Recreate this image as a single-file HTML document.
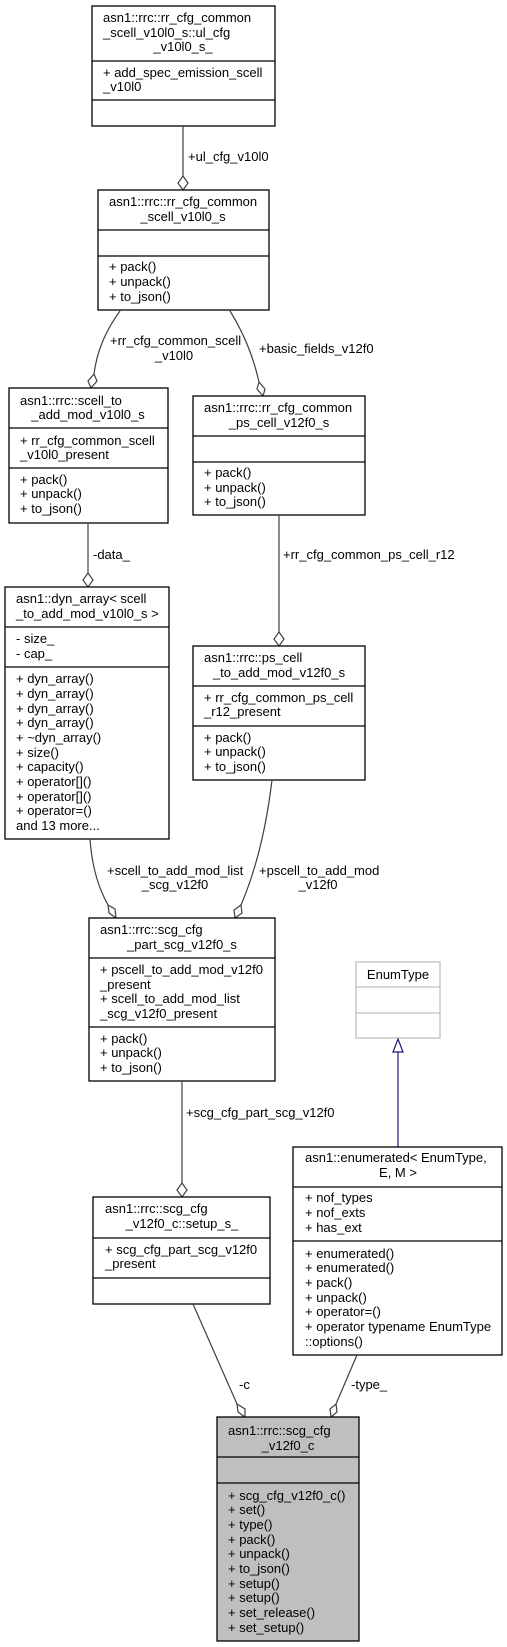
<!DOCTYPE html>
<html><head><meta charset="utf-8"><style>
html,body{margin:0;padding:0;background:#fff;}
svg{display:block;}
text{font-family:"Liberation Sans",Arial,sans-serif;font-size:13px;fill:#000;}
.b{fill:#fff;stroke:#000;stroke-width:1.3;}
.l{stroke:#000;stroke-width:1.3;}
.e{fill:none;stroke:#404040;stroke-width:1.2;}
.d{fill:#fff;stroke:#404040;stroke-width:1.2;}
.m{text-anchor:middle;}
</style></head><body>
<svg width="507" height="1647" viewBox="0 0 507 1647" xmlns="http://www.w3.org/2000/svg">

<rect class="b" x="92" y="6" width="183" height="120"/>
<line class="l" x1="92" y1="61" x2="275" y2="61"/><line class="l" x1="92" y1="100" x2="275" y2="100"/>
<text x="103" y="22">asn1::rrc::rr_cfg_common</text>
<text x="103" y="37">_scell_v10l0_s::ul_cfg</text>
<text x="183" y="51" class="m">_v10l0_s_</text>
<text x="103" y="77">+ add_spec_emission_scell</text>
<text x="103" y="91">_v10l0</text>

<line class="e" x1="183" y1="126" x2="183" y2="176"/>
<polygon class="d" points="183,176 188,183 183,190 178,183"/>
<text x="188" y="161">+ul_cfg_v10l0</text>

<rect class="b" x="98" y="190" width="171" height="120"/>
<line class="l" x1="98" y1="230" x2="269" y2="230"/><line class="l" x1="98" y1="256" x2="269" y2="256"/>
<text x="109" y="206">asn1::rrc::rr_cfg_common</text>
<text x="183" y="221" class="m">_scell_v10l0_s</text>
<text x="109" y="271">+ pack()</text>
<text x="109" y="286">+ unpack()</text>
<text x="109" y="301">+ to_json()</text>

<path class="e" d="M120,311 C106,330 97,350 94,374"/>
<polygon class="d" points="94,374 97,381 91,388 88,381"/>
<text x="110" y="345">+rr_cfg_common_scell</text>
<text x="174" y="360" class="m">_v10l0</text>

<path class="e" d="M230,311 C243,332 253,355 259,382"/>
<polygon class="d" points="259,382 265,389 263,396 257,389"/>
<text x="259" y="353">+basic_fields_v12f0</text>

<rect class="b" x="9" y="388" width="159" height="135"/>
<line class="l" x1="9" y1="428" x2="168" y2="428"/><line class="l" x1="9" y1="468" x2="168" y2="468"/>
<text x="20" y="405">asn1::rrc::scell_to</text>
<text x="88" y="419" class="m">_add_mod_v10l0_s</text>
<text x="20" y="445">+ rr_cfg_common_scell</text>
<text x="20" y="459">_v10l0_present</text>
<text x="20" y="484">+ pack()</text>
<text x="20" y="498">+ unpack()</text>
<text x="20" y="513">+ to_json()</text>

<rect class="b" x="193" y="396" width="172" height="119"/>
<line class="l" x1="193" y1="436" x2="365" y2="436"/><line class="l" x1="193" y1="462" x2="365" y2="462"/>
<text x="204" y="412">asn1::rrc::rr_cfg_common</text>
<text x="279" y="427" class="m">_ps_cell_v12f0_s</text>
<text x="204" y="477">+ pack()</text>
<text x="204" y="492">+ unpack()</text>
<text x="204" y="506">+ to_json()</text>

<line class="e" x1="88" y1="523" x2="88" y2="573"/>
<polygon class="d" points="88,573 93,580 88,587 83,580"/>
<text x="93" y="559">-data_</text>

<line class="e" x1="279" y1="515" x2="279" y2="632"/>
<polygon class="d" points="279,632 284,639 279,646 274,639"/>
<text x="283" y="559">+rr_cfg_common_ps_cell_r12</text>

<rect class="b" x="5" y="587" width="164" height="252"/>
<line class="l" x1="5" y1="627" x2="169" y2="627"/><line class="l" x1="5" y1="667" x2="169" y2="667"/>
<text x="16" y="603">asn1::dyn_array&lt; scell</text>
<text x="16" y="618">_to_add_mod_v10l0_s &gt;</text>
<text x="16" y="643">- size_</text>
<text x="16" y="658">- cap_</text>
<text x="16" y="683">+ dyn_array()</text>
<text x="16" y="698">+ dyn_array()</text>
<text x="16" y="713">+ dyn_array()</text>
<text x="16" y="727">+ dyn_array()</text>
<text x="16" y="742">+ ~dyn_array()</text>
<text x="16" y="757">+ size()</text>
<text x="16" y="771">+ capacity()</text>
<text x="16" y="786">+ operator[]()</text>
<text x="16" y="801">+ operator[]()</text>
<text x="16" y="815">+ operator=()</text>
<text x="16" y="830">and 13 more...</text>

<rect class="b" x="193" y="646" width="172" height="134"/>
<line class="l" x1="193" y1="686" x2="365" y2="686"/><line class="l" x1="193" y1="726" x2="365" y2="726"/>
<text x="204" y="662">asn1::rrc::ps_cell</text>
<text x="279" y="677" class="m">_to_add_mod_v12f0_s</text>
<text x="204" y="702">+ rr_cfg_common_ps_cell</text>
<text x="204" y="716">_r12_present</text>
<text x="204" y="742">+ pack()</text>
<text x="204" y="756">+ unpack()</text>
<text x="204" y="771">+ to_json()</text>

<path class="e" d="M90,839 C92,868 99,889 108,905"/>
<polygon class="d" points="108,905 115,909 116,918 109,913"/>
<text x="107" y="875">+scell_to_add_mod_list</text>
<text x="175" y="889" class="m">_scg_v12f0</text>

<path class="e" d="M272,780 C266,830 256,870 241,905"/>
<polygon class="d" points="241,905 242,913 235,918 234,910"/>
<text x="259" y="875">+pscell_to_add_mod</text>
<text x="318" y="889" class="m">_v12f0</text>

<rect class="b" x="89" y="918" width="186" height="163"/>
<line class="l" x1="89" y1="958" x2="275" y2="958"/><line class="l" x1="89" y1="1027" x2="275" y2="1027"/>
<text x="100" y="934">asn1::rrc::scg_cfg</text>
<text x="182" y="949" class="m">_part_scg_v12f0_s</text>
<text x="100" y="974">+ pscell_to_add_mod_v12f0</text>
<text x="100" y="989">_present</text>
<text x="100" y="1003">+ scell_to_add_mod_list</text>
<text x="100" y="1018">_scg_v12f0_present</text>
<text x="100" y="1043">+ pack()</text>
<text x="100" y="1057">+ unpack()</text>
<text x="100" y="1072">+ to_json()</text>

<rect x="356" y="962" width="84" height="76" fill="#fff" stroke="#bfbfbf" stroke-width="1.3"/>
<line x1="356" y1="987" x2="440" y2="987" stroke="#bfbfbf" stroke-width="1.3"/>
<line x1="356" y1="1013" x2="440" y2="1013" stroke="#bfbfbf" stroke-width="1.3"/>
<text x="398" y="979" class="m">EnumType</text>

<line x1="398" y1="1147" x2="398" y2="1052" stroke="#191970" stroke-width="1.2"/>
<polygon points="398,1039 403,1052 393,1052" fill="#fff" stroke="#191970" stroke-width="1.2"/>

<line class="e" x1="182" y1="1081" x2="182" y2="1183"/>
<polygon class="d" points="182,1183 187,1190 182,1197 177,1190"/>
<text x="186" y="1117">+scg_cfg_part_scg_v12f0</text>

<rect class="b" x="93" y="1197" width="177" height="107"/>
<line class="l" x1="93" y1="1238" x2="270" y2="1238"/><line class="l" x1="93" y1="1278" x2="270" y2="1278"/>
<text x="105" y="1213">asn1::rrc::scg_cfg</text>
<text x="182" y="1228" class="m">_v12f0_c::setup_s_</text>
<text x="105" y="1254">+ scg_cfg_part_scg_v12f0</text>
<text x="105" y="1268">_present</text>

<rect class="b" x="293" y="1147" width="209" height="208"/>
<line class="l" x1="293" y1="1187" x2="502" y2="1187"/><line class="l" x1="293" y1="1241" x2="502" y2="1241"/>
<text x="305" y="1162">asn1::enumerated&lt; EnumType,</text>
<text x="398" y="1177" class="m">E, M &gt;</text>
<text x="305" y="1202">+ nof_types</text>
<text x="305" y="1217">+ nof_exts</text>
<text x="305" y="1232">+ has_ext</text>
<text x="305" y="1258">+ enumerated()</text>
<text x="305" y="1272">+ enumerated()</text>
<text x="305" y="1287">+ pack()</text>
<text x="305" y="1302">+ unpack()</text>
<text x="305" y="1316">+ operator=()</text>
<text x="305" y="1331">+ operator typename EnumType</text>
<text x="305" y="1346">::options()</text>

<line class="e" x1="193" y1="1304" x2="237" y2="1404"/>
<polygon class="d" points="237,1404 245,1409 245,1417 238,1412"/>
<text x="239" y="1389">-c</text>

<line class="e" x1="357" y1="1355" x2="336" y2="1404"/>
<polygon class="d" points="336,1404 337,1412 331,1417 330,1409"/>
<text x="351" y="1389">-type_</text>

<rect x="217" y="1417" width="142" height="224" fill="#bfbfbf" stroke="#000" stroke-width="1.3"/>
<line class="l" x1="217" y1="1457" x2="359" y2="1457"/><line class="l" x1="217" y1="1483" x2="359" y2="1483"/>
<text x="228" y="1435">asn1::rrc::scg_cfg</text>
<text x="288" y="1450" class="m">_v12f0_c</text>
<text x="228" y="1500">+ scg_cfg_v12f0_c()</text>
<text x="228" y="1514">+ set()</text>
<text x="228" y="1529">+ type()</text>
<text x="228" y="1544">+ pack()</text>
<text x="228" y="1558">+ unpack()</text>
<text x="228" y="1573">+ to_json()</text>
<text x="228" y="1588">+ setup()</text>
<text x="228" y="1602">+ setup()</text>
<text x="228" y="1617">+ set_release()</text>
<text x="228" y="1632">+ set_setup()</text>
</svg>
</body></html>
